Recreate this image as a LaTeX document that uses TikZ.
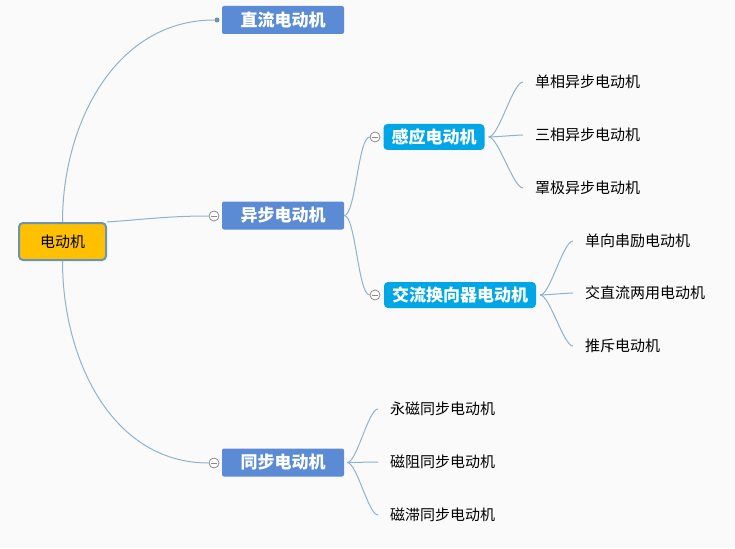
\documentclass[tikz,border=0pt]{standalone}
\usepackage{fontspec}
\setmainfont{Noto Sans CJK SC}
\usepackage{xcolor}
\usepackage{tikz}
\usetikzlibrary{positioning, arrows.meta, calc}

\definecolor{bgpaper}{HTML}{FAFAFA}
\definecolor{rootfill}{HTML}{FFC000}
\definecolor{rootedge}{HTML}{6A93B8}
\definecolor{mainfill}{HTML}{5A8BD4}
\definecolor{subfill}{HTML}{00A6E6}
\definecolor{linkblue}{HTML}{8FB3CC}
\definecolor{foldgray}{HTML}{8A8A8A}

\begin{document}
\begin{tikzpicture}[
    x=1pt, y=1pt,
    rootbox/.style={rectangle, rounded corners=4pt, draw=rootedge, line width=2pt, fill=rootfill, minimum width=87pt, minimum height=37pt, inner sep=0pt, font=\fontsize{15}{17}\selectfont},
    mainbox/.style={rectangle, rounded corners=2pt, fill=mainfill, text=white, minimum width=122pt, minimum height=28pt, inner sep=0pt, font=\fontsize{17}{19}\selectfont\bfseries},
    subbox/.style={rectangle, rounded corners=4pt, fill=subfill, text=white, minimum height=26pt, inner xsep=8pt, inner ysep=0pt, font=\fontsize{17}{19}\selectfont\bfseries},
    leaf/.style={anchor=west, inner xsep=12pt, inner ysep=2pt, font=\fontsize{15}{17}\selectfont},
    fold/.style={circle, draw=foldgray, fill=white, line width=0.8pt, minimum size=10pt, inner sep=0pt,
        path picture={\draw[foldgray, line width=0.8pt] ([xshift=2pt]path picture bounding box.west) -- ([xshift=-2pt]path picture bounding box.east);}},
    link/.style={draw=linkblue, line width=1pt},
]
\fill[bgpaper] (0,0) rectangle (735,-548);

% root
\node[rootbox] (root) at (62.5,-241.5) {电动机};

% first level
\node[mainbox] (dc) at (283,-20) {直流电动机};
\node[mainbox] (async) at (283,-215.5) {异步电动机};
\node[mainbox] (sync) at (283,-462.5) {同步电动机};
\node[circle, fill=linkblue!80!black, minimum size=5pt, inner sep=0pt] (dot) at (217,-20) {};
\node[fold] (fasync) at (214,-216) {};
\node[fold] (fsync) at (214,-463) {};

% second level
\node[subbox] (induct) at (434,-137) {感应电动机};
\node[subbox] (commut) at (460,-295) {交流换向器电动机};
\node[fold] (finduct) at (375,-137) {};
\node[fold] (fcommut) at (375,-295) {};

% leaves
\node[leaf] (l1) at (523,-82) {单相异步电动机};
\node[leaf] (l2) at (523,-135) {三相异步电动机};
\node[leaf] (l3) at (523,-188) {罩极异步电动机};
\node[leaf] (l4) at (573,-241) {单向串励电动机};
\node[leaf] (l5) at (573,-293) {交直流两用电动机};
\node[leaf] (l6) at (573,-346) {推斥电动机};
\node[leaf] (l7) at (378,-409) {永磁同步电动机};
\node[leaf] (l8) at (378,-462) {磁阻同步电动机};
\node[leaf] (l9) at (378,-515) {磁滞同步电动机};

% connectors
\draw[link] (root.north) to[out=90, in=180] (dot.west);
\draw[link] (root.north east) to[out=4, in=180] (fasync.west);
\draw[link] (root.south) to[out=-90, in=180] (fsync.west);

\draw[link] (async.east) to[out=0, in=180, looseness=0.35] (finduct.west);
\draw[link] (async.east) to[out=0, in=180, looseness=0.35] (fcommut.west);

\foreach \leafname in {l1,l2,l3}
  \draw[link] ([xshift=4pt]induct.east) to[out=0, in=180, looseness=0.4] (\leafname.west);
\foreach \leafname in {l4,l5,l6}
  \draw[link] ([xshift=4pt]commut.east) to[out=0, in=180, looseness=0.4] (\leafname.west);
\foreach \leafname in {l7,l8,l9}
  \draw[link] ([xshift=3pt]sync.east) to[out=0, in=180, looseness=0.4] (\leafname.west);
\end{tikzpicture}
\end{document}
